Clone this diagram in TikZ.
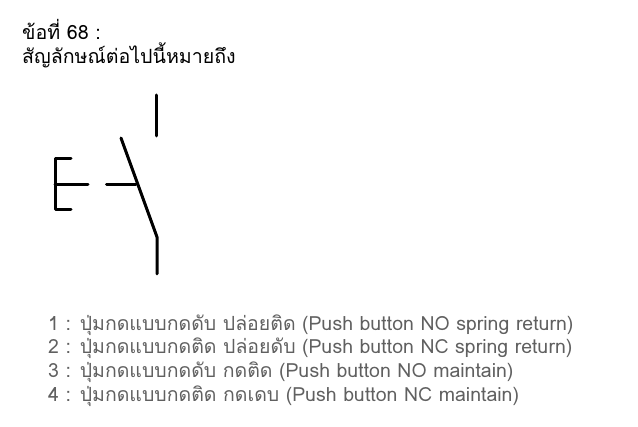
\documentclass[tikz,border=0pt]{standalone}
\usepackage{fontspec}
\setmainfont[Script=Thai]{Loma}
\usetikzlibrary{positioning}
\definecolor{answergray}{RGB}{96,96,96}
\tikzset{
    symline/.style={line width=3pt, line cap=round, line join=round, black},
    qtext/.style={anchor=base west, inner sep=0pt, font=\fontsize{19.6}{22}\selectfont, black},
    atext/.style={anchor=base west, inner sep=0pt, font=\fontsize{19.5}{22}\selectfont, answergray}
}

\begin{document}
\begin{tikzpicture}[x=1pt,y=-1pt]
    \useasboundingbox (0,0) rectangle (638,427);

    \node [qtext] (qnum) at (22,40) {ข้อที่ 68 :};
    \node [qtext] (qline) at (22,64) {สัญลักษณ์ต่อไปนี้หมายถึง};

    % push button symbol
    \draw [symline] (156.5,95) -- (156.5,136);
    \draw [symline] (121,138) -- (157,237) -- (157,274);
    \draw [symline] (106.5,184.5) -- (136,184.5);
    \draw [symline] (71,159) -- (55,159) -- (55,210) -- (71,210);
    \draw [symline] (55,184.5) -- (88,184.5);

    \node [atext] (ans1) at (48,331) {1 : ปุ่มกดแบบกดดับ ปล่อยติด (Push button NO spring return)};
    \node [atext] (ans2) at (48,354) {2 : ปุ่มกดแบบกดติด ปล่อยดับ (Push button NC spring return)};
    \node [atext] (ans3) at (48,378) {3 : ปุ่มกดแบบกดดับ กดติด (Push button NO maintain)};
    \node [atext] (ans4) at (48,402) {4 : ปุ่มกดแบบกดติด กดเดบ (Push button NC maintain)};
\end{tikzpicture}
\end{document}
